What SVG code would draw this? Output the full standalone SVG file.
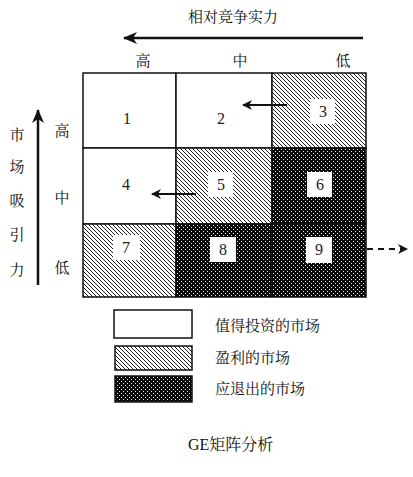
<svg xmlns="http://www.w3.org/2000/svg" width="413" height="477" viewBox="0 0 413 477">
<defs>
<pattern id="hatch" patternUnits="userSpaceOnUse" width="4" height="4">
<rect width="4" height="4" fill="#fff"/>
<path d="M-1,-1 L5,5 M-1,3 L1,5 M3,-1 L5,1" stroke="#222" stroke-width="1"/>
</pattern>
<pattern id="dots" patternUnits="userSpaceOnUse" width="4" height="4">
<rect width="4" height="4" fill="#0a0a0a"/>
<rect x="1" y="1" width="1" height="1" fill="#e8e8e8"/>
<rect x="3" y="3" width="1" height="1" fill="#e8e8e8"/>
</pattern>
<marker id="ah" viewBox="0 0 10 10" refX="9" refY="5" markerWidth="10" markerHeight="10" markerUnits="userSpaceOnUse" orient="auto">
<path d="M0,0 L10,5 L0,10 L3,5 Z" fill="#111"/>
</marker>
<marker id="ahBig" viewBox="0 0 14 12" refX="13" refY="6" markerWidth="14" markerHeight="12" markerUnits="userSpaceOnUse" orient="auto">
<path d="M0,0 L14,6 L0,12 L4,6 Z" fill="#111"/>
</marker>
</defs>
<style>
.cjk{font-family:"Noto Serif CJK SC","Noto Sans CJK SC",serif;fill:#111}
.num{font-family:"Liberation Serif",serif;font-size:16px;fill:#222;text-anchor:middle}
.cell{stroke:#111;stroke-width:1.5}
.nbox{fill:#fff}
.axis{stroke:#111;stroke-width:2.5;fill:none}
.arr{stroke:#111;stroke-width:2;fill:none}
</style>

<g id="axis-x">
<text class="cjk" x="233" y="22" font-size="15" text-anchor="middle">相对竞争实力</text>
<line class="axis" x1="363" y1="38" x2="124" y2="38" marker-end="url(#ahBig)"/>
<text class="cjk" x="143" y="66" font-size="15" text-anchor="middle">高</text>
<text class="cjk" x="240" y="66" font-size="15" text-anchor="middle">中</text>
<text class="cjk" x="343" y="66" font-size="15" text-anchor="middle">低</text>
</g>

<g id="axis-y">
<line class="axis" x1="38" y1="285" x2="38" y2="110" marker-end="url(#ahBig)"/>
<g class="cjk" font-size="15" text-anchor="middle">
<text x="17" y="140">市</text>
<text x="17" y="172">场</text>
<text x="17" y="206">吸</text>
<text x="17" y="240">引</text>
<text x="17" y="275">力</text>
<text x="62" y="136">高</text>
<text x="62" y="203">中</text>
<text x="62" y="273">低</text>
</g>
</g>

<g id="cell1"><rect class="cell" x="83" y="73" width="93" height="75" fill="#fff"/><text class="num" x="127" y="124">1</text></g>
<g id="cell2"><rect class="cell" x="176" y="73" width="96" height="75" fill="#fff"/><text class="num" x="221" y="124">2</text></g>
<g id="cell3"><rect class="cell" x="272" y="73" width="94" height="75" fill="url(#hatch)"/><rect class="nbox" x="310" y="99" width="25" height="25"/><text class="num" x="323" y="117">3</text></g>
<g id="cell4"><rect class="cell" x="83" y="148" width="93" height="76" fill="#fff"/><text class="num" x="126" y="190">4</text></g>
<g id="cell5"><rect class="cell" x="176" y="148" width="96" height="76" fill="url(#hatch)"/><rect class="nbox" x="208" y="172" width="25" height="25"/><text class="num" x="221" y="190">5</text></g>
<g id="cell6"><rect class="cell" x="272" y="148" width="94" height="76" fill="url(#dots)"/><rect class="nbox" x="307" y="172" width="25" height="25"/><text class="num" x="320" y="190">6</text></g>
<g id="cell7"><rect class="cell" x="83" y="224" width="93" height="73" fill="url(#hatch)"/><rect class="nbox" x="113" y="235" width="27" height="25"/><text class="num" x="126" y="253">7</text></g>
<g id="cell8"><rect class="cell" x="176" y="224" width="96" height="73" fill="url(#dots)"/><rect class="nbox" x="210" y="237" width="26" height="25"/><text class="num" x="223" y="255">8</text></g>
<g id="cell9"><rect class="cell" x="272" y="224" width="94" height="73" fill="url(#dots)"/><rect class="nbox" x="306" y="237" width="26" height="26"/><text class="num" x="319" y="255">9</text></g>

<g id="connectors">
<line class="arr" x1="287" y1="105" x2="243" y2="105" marker-end="url(#ah)"/>
<line class="arr" x1="196" y1="194" x2="152" y2="194" marker-end="url(#ah)"/>
<line class="arr" x1="367" y1="249" x2="407" y2="249" stroke-dasharray="6,5" marker-end="url(#ah)"/>
</g>

<g id="legend">
<rect class="cell" x="114" y="310" width="78" height="28" fill="#fff"/>
<rect class="cell" x="115" y="346" width="77" height="24" fill="url(#hatch)"/>
<rect class="cell" x="115" y="376" width="77" height="26" fill="url(#dots)"/>
<g class="cjk" font-size="15">
<text x="215" y="331">值得投资的市场</text>
<text x="215" y="363">盈利的市场</text>
<text x="215" y="394">应退出的市场</text>
</g>
</g>

<g id="caption">
<text x="188" y="450" font-size="16" class="cjk"><tspan font-family="Liberation Serif">GE</tspan>矩阵分析</text>
</g>
</svg>
